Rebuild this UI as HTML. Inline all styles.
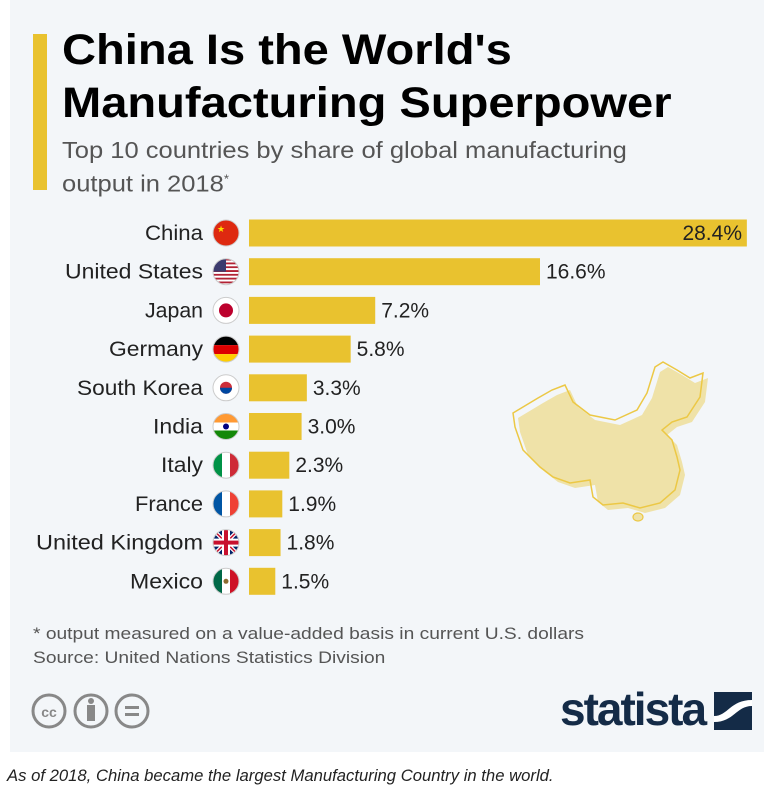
<!DOCTYPE html>
<html><head><meta charset="utf-8"><style>
body{margin:0;width:764px;height:808px;background:#fff;font-family:"Liberation Sans",sans-serif;position:relative;overflow:hidden}
#panel{position:absolute;left:10px;top:0;width:754px;height:752px;background:#f3f6f9}
.t{position:absolute;white-space:nowrap;transform-origin:left top}
</style></head><body>
<div id="panel"></div>
<div class="t" style="left:33px;top:34px;width:14px;height:156px;background:#e9c22f"></div>
<div class="t" style="left:62px;top:24px;font-size:43px;font-weight:bold;line-height:53px;color:#000;transform:scaleX(1.095)">China Is the World's<br>Manufacturing Superpower</div>
<div class="t" style="left:62px;top:136px;font-size:23px;line-height:29px;color:#555;transform:scaleX(1.11)">Top 10 countries by share of global manufacturing<br>output in 2018<sup style="font-size:12px">*</sup></div>
<svg class="t" style="left:0;top:0" width="764" height="808">
<g font-family="Liberation Sans, sans-serif" font-size="21" fill="#222">
<g id="bars"></g>
</g>
<path d="M518,418 L543,403 L557,395 L570,390 L578,407 L595,420 L620,425 L642,415 L652,398 L660,372 L668,367 L682,375 L695,383 L708,378 L705,402 L692,422 L677,427 L667,435 L677,445 L682,462 L685,475 L680,495 L665,508 L645,513 L628,508 L608,510 L598,502 L595,485 L575,488 L558,482 L545,472 L528,455 L520,432Z" fill="#efe2a8"/>
<path d="M513,413 L538,398 L552,390 L565,385 L573,402 L590,415 L615,420 L637,410 L647,393 L655,367 L663,362 L677,370 L690,378 L703,373 L700,397 L687,417 L672,422 L662,430 L672,440 L677,457 L680,470 L675,490 L660,503 L640,508 L623,503 L603,505 L593,497 L590,480 L570,483 L553,477 L540,467 L523,450 L515,427Z" fill="none" stroke="#ecc845" stroke-width="1.5"/>
<ellipse cx="638" cy="517" rx="5" ry="4" fill="#efe2a8" stroke="#ecc845" stroke-width="1.2"/>
</svg>
<script>
var d=[["China",28.4,"cn",145],["United States",16.6,"us",65],["Japan",7.2,"jp",145],["Germany",5.8,"de",109],["South Korea",3.3,"kr",77],["India",3.0,"in",153],["Italy",2.3,"it",161],["France",1.9,"fr",135],["United Kingdom",1.8,"gb",36],["Mexico",1.5,"mx",130]];
var s="";
function flag(c,x,y){var r=13,cl='<clipPath id="c'+c+'"><circle cx="'+x+'" cy="'+y+'" r="'+r+'"/></clipPath>',g='<g clip-path="url(#c'+c+')">',L=x-r,T=y-r,W=26;
function rect(a,b,w,h,f){return '<rect x="'+a+'" y="'+b+'" width="'+w+'" height="'+h+'" fill="'+f+'"/>';}
var o="";
if(c=="cn")o=rect(L,T,W,W,"#de2910")+'<text x="'+(x-9)+'" y="'+(y-1)+'" font-size="9" fill="#ffde00">★</text>';
if(c=="us"){for(var i=0;i<7;i++)o+=rect(L,T+i*3.8,W,1.9,"#b22234")+rect(L,T+i*3.8+1.9,W,1.9,"#fff");o+=rect(L,T,13,13,"#3c3b6e");}
if(c=="jp")o=rect(L,T,W,W,"#fff")+'<circle cx="'+x+'" cy="'+y+'" r="7" fill="#bc002d"/>';
if(c=="de")o=rect(L,T,W,9,"#000")+rect(L,T+9,W,9,"#dd0000")+rect(L,T+18,W,8,"#ffce00");
if(c=="kr")o=rect(L,T,W,W,"#fff")+'<circle cx="'+x+'" cy="'+y+'" r="6" fill="#cd2e3a"/><path d="M'+(x-6)+','+y+' a6,6 0 0,0 12,0z" fill="#0047a0"/>';
if(c=="in")o=rect(L,T,W,9,"#ff9933")+rect(L,T+9,W,8,"#fff")+rect(L,T+17,W,9,"#138808")+'<circle cx="'+x+'" cy="'+y+'" r="3" fill="#000080"/>';
if(c=="it")o=rect(L,T,9,W,"#009246")+rect(L+9,T,8,W,"#fff")+rect(L+17,T,9,W,"#ce2b37");
if(c=="fr")o=rect(L,T,9,W,"#0055a4")+rect(L+9,T,8,W,"#fff")+rect(L+17,T,9,W,"#ef4135");
if(c=="gb")o=rect(L,T,W,W,"#012169")+'<path d="M'+L+','+T+'L'+(L+W)+','+(T+W)+'M'+(L+W)+','+T+'L'+L+','+(T+W)+'" stroke="#fff" stroke-width="4"/><path d="M'+L+','+T+'L'+(L+W)+','+(T+W)+'M'+(L+W)+','+T+'L'+L+','+(T+W)+'" stroke="#c8102e" stroke-width="1.5"/>'+rect(x-4,T,8,W,"#fff")+rect(L,y-4,W,8,"#fff")+rect(x-2,T,4,W,"#c8102e")+rect(L,y-2,W,4,"#c8102e");
if(c=="mx")o=rect(L,T,9,W,"#006847")+rect(L+9,T,8,W,"#fff")+rect(L+17,T,9,W,"#ce1126")+'<circle cx="'+x+'" cy="'+y+'" r="2.5" fill="#8c6b2f"/>';
return cl+g+o+'</g><circle cx="'+x+'" cy="'+y+'" r="'+r+'" fill="none" stroke="#ccc" stroke-width="1"/>';}
d.forEach(function(e,i){var y=233+i*38.7,w=e[1]*17.53;
s+='<text x="'+e[3]+'" y="'+(y+7)+'" textLength="'+(203-e[3])+'" lengthAdjust="spacingAndGlyphs">'+e[0]+'</text>';
s+=flag(e[2],226,y);
s+='<rect x="249" y="'+(y-13.5)+'" width="'+w+'" height="27" fill="#e9c22f"/>';
if(i==0)s+='<text x="742" y="'+(y+7)+'" text-anchor="end">28.4%</text>';
else s+='<text x="'+(249+w+6)+'" y="'+(y+7)+'">'+e[1].toFixed(1)+'%</text>';});
document.getElementById("bars").innerHTML=s;
</script>
<div class="t" style="left:33px;top:622px;font-size:17px;line-height:24px;color:#555;transform:scaleX(1.13)">* output measured on a value-added basis in current U.S. dollars<br>Source: United Nations Statistics Division</div>
<svg class="t" style="left:30px;top:692px" width="140" height="40">
<g fill="none" stroke="#888" stroke-width="3"><circle cx="19" cy="19" r="16"/><circle cx="61" cy="19" r="16"/><circle cx="102" cy="19" r="16"/></g>
<text x="19" y="25" text-anchor="middle" font-size="14" font-weight="bold" fill="#888" font-family="Liberation Sans">cc</text>
<circle cx="61" cy="9" r="3" fill="#888"/><rect x="57" y="13" width="8" height="16" fill="#888"/>
<rect x="95" y="14" width="14" height="3" fill="#888"/><rect x="95" y="21" width="14" height="3" fill="#888"/>
</svg>
<div class="t" style="left:560px;top:682px;font-size:46px;font-weight:bold;color:#142b47;letter-spacing:-2px">statista</div>
<svg class="t" style="left:714px;top:692px" width="38" height="38"><rect width="38" height="38" fill="#142b47"/><path d="M0,24 C14,24 16,8 38,8 L38,14 C22,14 20,30 0,30Z" fill="#fff"/></svg>
<div class="t" style="left:7px;top:767px;font-size:16.5px;font-style:italic;color:#222;transform:scaleX(1.01)">As of 2018, China became the largest Manufacturing Country in the world.</div>
</body></html>
